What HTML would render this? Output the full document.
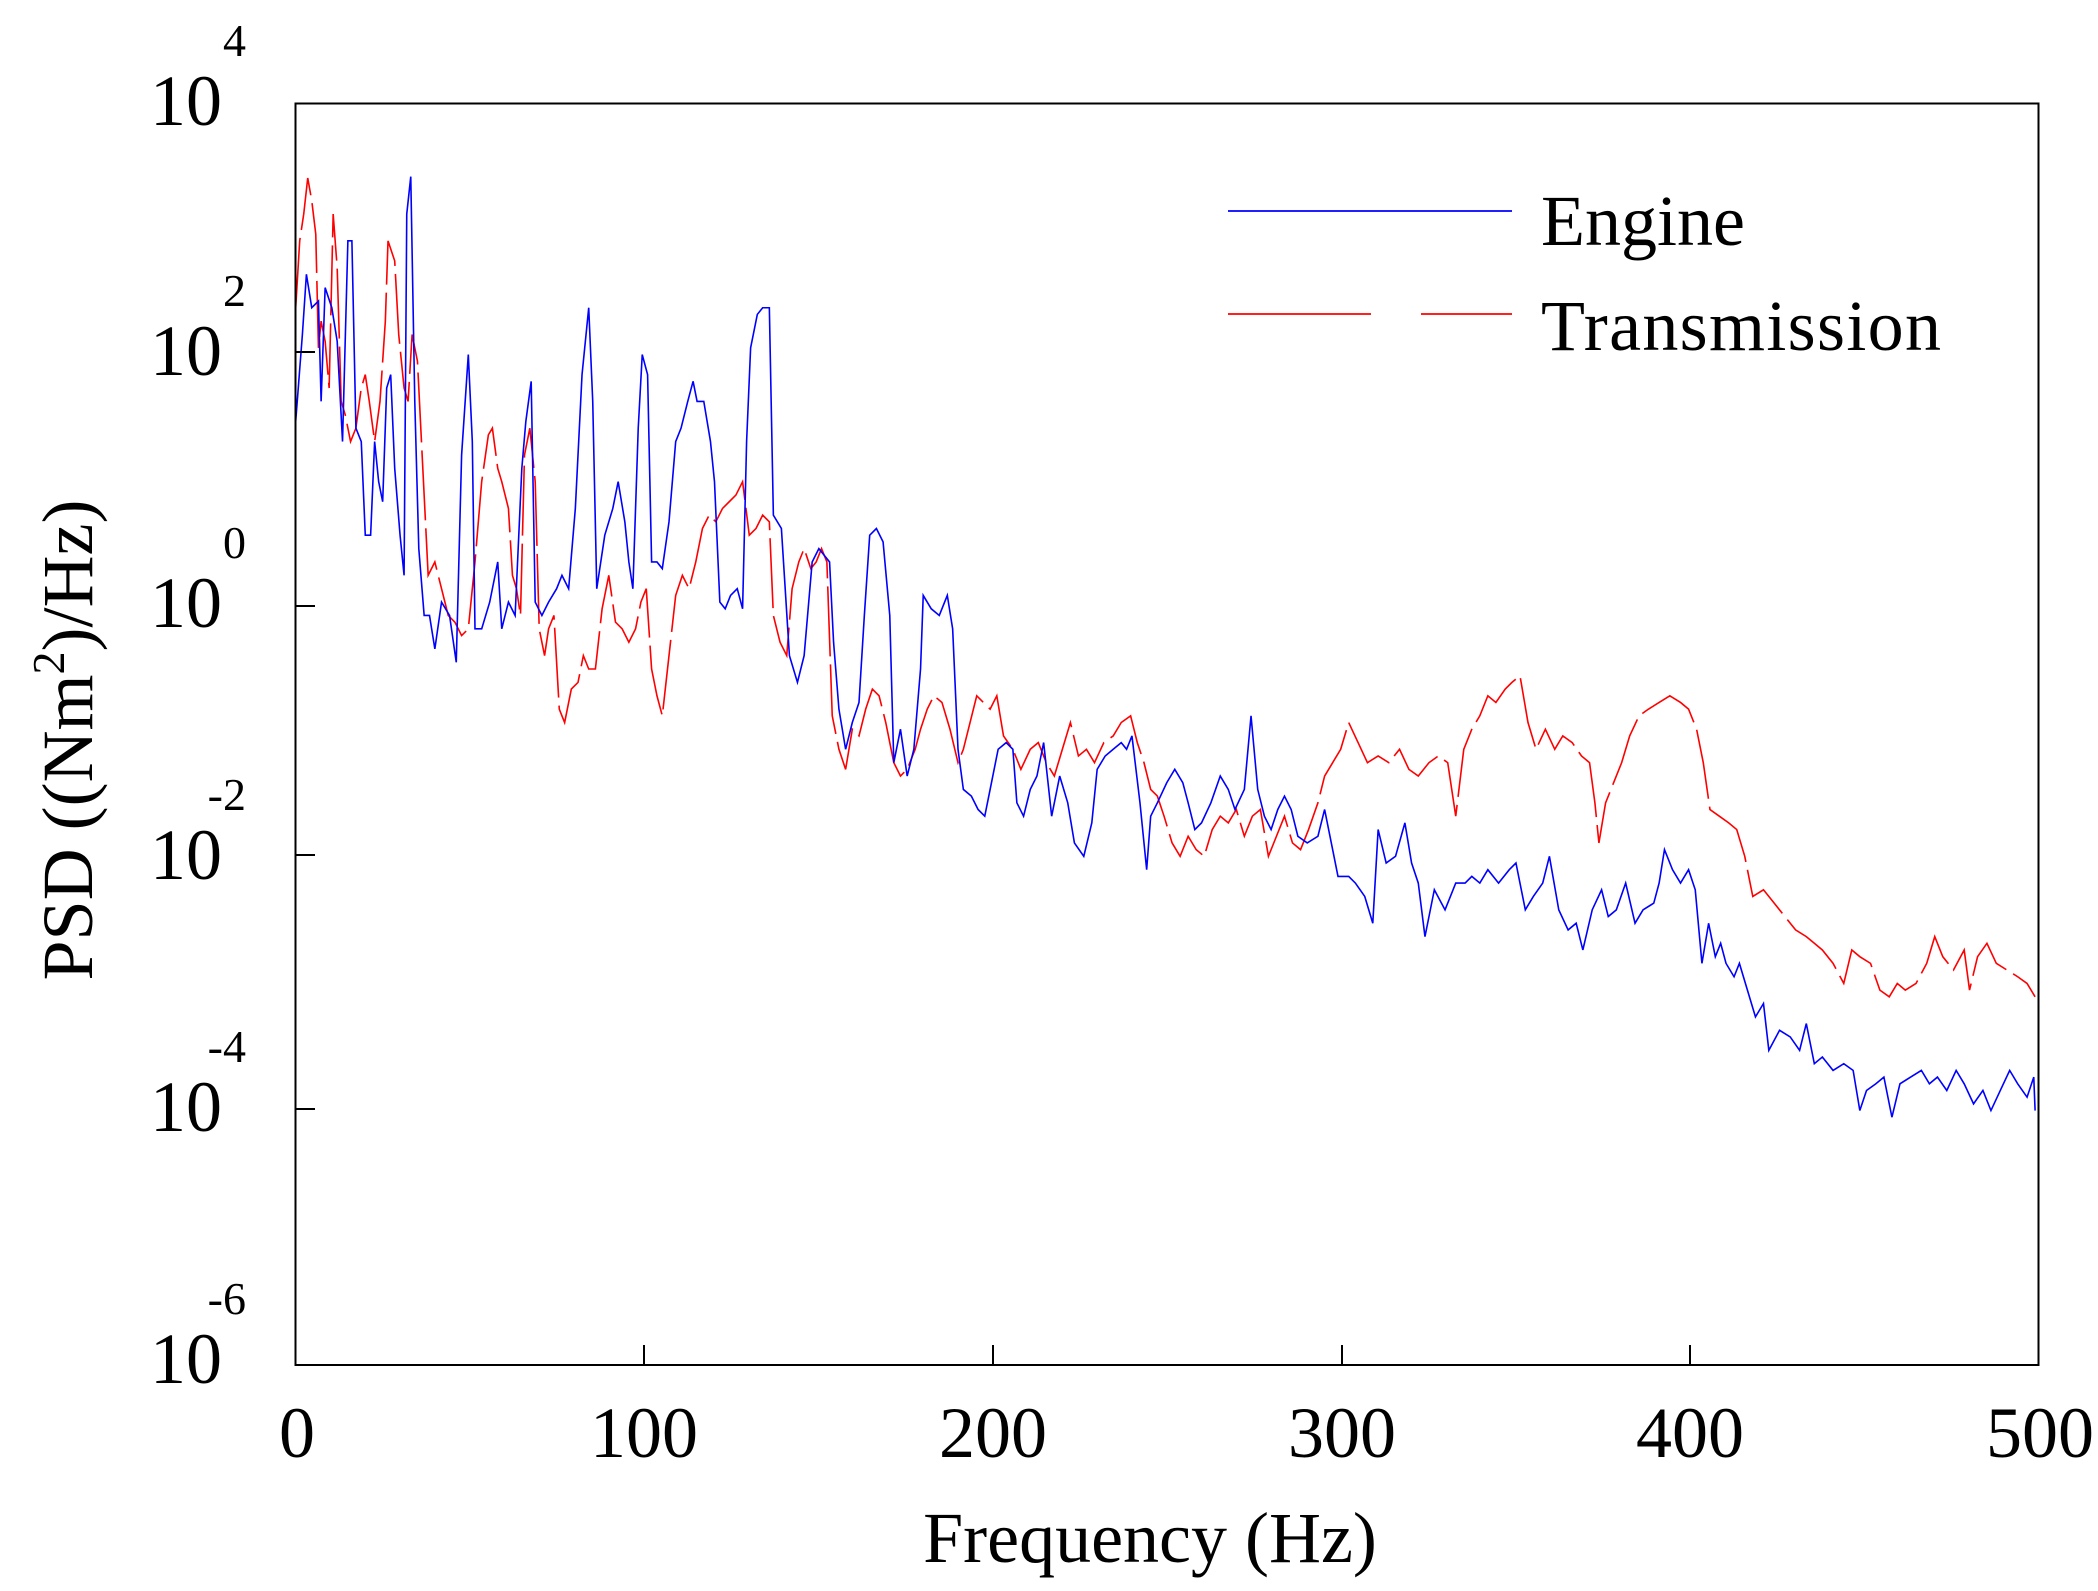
<!DOCTYPE html>
<html><head><meta charset="utf-8"><style>html,body{margin:0;padding:0;background:#fff}svg{display:block}</style></head>
<body>
<svg width="2098" height="1591" viewBox="0 0 2098 1591" xmlns="http://www.w3.org/2000/svg" font-family="'Liberation Serif', serif">
<rect width="2098" height="1591" fill="#fff"/>
<g transform="scale(1.338)" fill="none" stroke-linejoin="miter">
<polyline vector-effect="non-scaling-stroke" stroke="#ff0000" stroke-width="1.6" stroke-dasharray="70 8" points="221,230 224,180 227,160 230,133 233,150 236,175 238,260 240,240 243,255 246,290 249,160 252,200 255,300 258,310 262,330 266,320 270,290 273,280 276,300 280,330 284,300 288,240 290,180 295,195 298,250 302,290 305,300 308,250 312,270 316,350 320,430 325,420 330,440 335,460 340,465 345,475 350,470 355,420 360,360 365,325 368,320 372,350 375,360 380,380 383,430 386,440 389,460 392,340 396,320 400,360 403,470 407,490 410,470 414,460 418,530 422,540 427,515 432,510 436,490 440,500 445,500 450,455 455,430 460,465 465,470 470,480 475,470 479,450 483,440 487,500 491,520 495,535 500,490 505,445 510,430 515,440 520,420 525,395 530,385 535,390 540,380 545,375 550,370 555,360 560,400 565,395 570,385 575,390 578,460 583,480 588,490 592,440 597,420 601,410 606,425 610,420 614,410 618,420 622,535 627,560 632,575 637,545 642,550 647,530 652,515 657,520 662,540 668,570 673,580 678,575 684,560 688,545 693,530 698,520 704,525 710,545 716,570 720,560 725,540 730,520 735,525 740,530 745,520 750,550 757,560 763,575 770,560 776,555 782,570 788,580 794,560 800,540 806,565 812,560 818,570 825,555 832,550 838,540 845,535 850,555 855,570 860,590 865,595 870,610 876,630 882,640 888,625 894,635 900,640 906,620 912,610 918,615 924,605 930,625 936,610 942,605 948,640 954,625 960,610 966,630 972,635 978,620 985,600 990,580 996,570 1002,560 1008,540 1015,555 1022,570 1030,565 1038,570 1046,560 1053,575 1060,580 1068,570 1075,565 1082,570 1088,610 1094,560 1100,545 1106,535 1112,520 1118,525 1125,515 1130,510 1136,505 1142,540 1148,560 1155,545 1162,560 1168,550 1175,555 1182,565 1188,570 1192,600 1195,630 1200,600 1206,585 1212,570 1218,550 1225,535 1232,530 1240,525 1248,520 1256,525 1262,530 1268,545 1273,570 1278,605 1285,610 1292,615 1298,620 1304,640 1310,670 1318,665 1326,675 1334,685 1342,695 1350,700 1356,705 1362,710 1370,720 1378,735 1384,710 1390,715 1398,720 1405,740 1412,745 1418,735 1424,740 1432,735 1440,720 1446,700 1452,715 1460,725 1468,710 1472,740 1478,715 1485,705 1492,720 1500,725 1508,730 1515,735 1521,745"/>
<polyline vector-effect="non-scaling-stroke" stroke="#0000ff" stroke-width="1.6" points="221,315 226,250 229,205 233,230 238,225 240,300 243,215 248,230 252,255 256,330 260,180 263,180 266,320 270,330 273,400 277,400 280,330 283,360 286,375 289,290 292,280 295,350 299,400 302,430 304,160 307,132 310,300 313,410 317,460 321,460 325,485 330,450 336,460 341,495 345,340 350,265 353,330 355,470 360,470 366,450 372,420 375,470 380,450 385,460 390,350 393,315 397,285 400,450 405,460 410,450 416,440 420,430 425,440 430,380 435,280 440,230 443,300 446,440 452,400 458,380 462,360 467,390 470,420 473,440 477,320 480,265 484,280 487,420 491,420 495,425 500,390 505,330 509,320 514,300 518,285 521,300 526,300 531,330 534,360 538,450 542,455 546,445 551,440 555,455 558,330 561,260 566,235 570,230 575,230 578,385 584,395 590,490 596,510 601,490 607,420 612,410 620,420 623,480 627,530 632,560 637,540 642,525 646,460 650,400 655,395 660,405 665,460 668,570 673,545 678,580 683,560 688,500 690,445 696,455 702,460 708,445 712,470 716,560 720,590 726,595 731,605 736,610 740,590 746,560 752,555 757,560 760,600 765,610 770,590 775,580 780,555 786,610 792,580 798,600 803,630 810,640 816,615 820,575 826,565 832,560 838,555 842,560 846,550 852,600 857,650 860,610 865,600 872,585 878,575 884,585 888,600 893,620 898,615 905,600 912,580 918,590 923,605 930,590 935,535 940,590 945,610 950,620 955,605 960,595 965,605 970,625 977,630 985,625 990,605 995,630 1000,655 1008,655 1013,660 1020,670 1026,690 1030,620 1036,645 1043,640 1050,615 1055,645 1060,660 1065,700 1072,665 1080,680 1088,660 1095,660 1100,655 1106,660 1112,650 1120,660 1128,650 1133,645 1140,680 1146,670 1153,660 1158,640 1165,680 1172,695 1178,690 1183,710 1190,680 1197,665 1202,685 1208,680 1215,660 1222,690 1228,680 1236,675 1240,660 1244,635 1250,650 1256,660 1262,650 1267,665 1272,720 1277,690 1282,715 1286,705 1290,720 1296,730 1300,720 1306,740 1312,760 1318,750 1322,785 1330,770 1338,775 1345,785 1350,765 1356,795 1362,790 1370,800 1378,795 1385,800 1390,830 1395,815 1402,810 1408,805 1414,835 1420,810 1428,805 1436,800 1442,810 1448,805 1455,815 1462,800 1468,810 1475,825 1482,815 1488,830 1495,815 1502,800 1508,810 1515,820 1520,805 1521,830"/>
</g>
<rect x="295.5" y="103.5" width="1743" height="1261.5" fill="none" stroke="#000" stroke-width="2"/>
<g stroke="#000" stroke-width="2">
<line x1="296" y1="352" x2="315" y2="352"/><line x1="296" y1="606" x2="315" y2="606"/><line x1="296" y1="855" x2="315" y2="855"/><line x1="296" y1="1109" x2="315" y2="1109"/>
<line x1="644" y1="1345" x2="644" y2="1365"/><line x1="993" y1="1345" x2="993" y2="1365"/><line x1="1342" y1="1345" x2="1342" y2="1365"/><line x1="1690" y1="1345" x2="1690" y2="1365"/>
</g>
<g font-size="72" text-anchor="end" fill="#000">
<text x="222" y="125">10</text><text x="222" y="375">10</text><text x="222" y="627">10</text><text x="222" y="879">10</text><text x="222" y="1131">10</text><text x="222" y="1383">10</text>
</g>
<g font-size="46" text-anchor="end" fill="#000">
<text x="246" y="56">4</text><text x="246" y="306">2</text><text x="246" y="558">0</text><text x="246" y="810">-2</text><text x="246" y="1062">-4</text><text x="246" y="1314">-6</text>
</g>
<g font-size="72" text-anchor="middle" fill="#000">
<text x="297" y="1457">0</text><text x="644" y="1457">100</text><text x="993" y="1457">200</text><text x="1342" y="1457">300</text><text x="1690" y="1457">400</text><text x="2040" y="1457">500</text>
<text x="1150" y="1562">Frequency (Hz)</text>
<text transform="translate(92,740) rotate(-90)">PSD ((Nm<tspan font-size="46" dy="-28">2</tspan><tspan dy="28">)/Hz)</tspan></text>
</g>
<line x1="1228" y1="211" x2="1512" y2="211" stroke="#0000ff" stroke-width="1.8"/>
<line x1="1228" y1="314" x2="1371" y2="314" stroke="#ff0000" stroke-width="1.8"/>
<line x1="1421" y1="314" x2="1512" y2="314" stroke="#ff0000" stroke-width="1.8"/>
<text x="1541" y="245" font-size="72" fill="#000">Engine</text>
<text x="1541" y="350" font-size="72" fill="#000" textLength="400" lengthAdjust="spacing">Transmission</text>
</svg>
</body></html>
